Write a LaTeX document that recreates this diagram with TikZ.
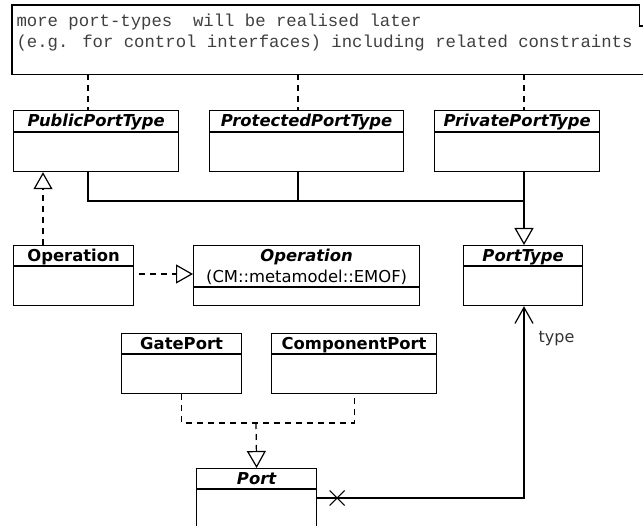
\documentclass[tikz,border=0pt]{standalone}
\usepackage{fontspec}
\setmainfont{DejaVu Sans}
\newfontfamily\notefont{Liberation Mono}
\usetikzlibrary{positioning, calc, arrows.meta, shapes.misc}

\begin{document}
\begin{tikzpicture}[
  x=1pt, y=-1pt,
  line width=1.2pt,
  classbox/.style={draw, anchor=north west, inner sep=0pt},
  classname/.style={font=\fontsize{16.4}{22}\selectfont\bfseries, inner sep=0pt, anchor=base},
  notetext/.style={font=\notefont\fontsize{17.3}{21}\selectfont, text=black!75, inner sep=0pt, anchor=base west},
  dep/.style={dash pattern=on 6pt off 5pt},
  realize/.style={dep, -{Triangle[open, length=17pt, width=19pt]}},
  generalize/.style={-{Triangle[open, length=17pt, width=19pt]}},
  assoc/.style={-{Straight Barb[length=16pt, width=18pt]}},
]
\useasboundingbox (0,0) rectangle (643,526);
\clip (0,0) rectangle (643,526);

% -------- note on top --------
\node[anchor=north west, minimum width=626pt, minimum height=68pt, inner sep=0pt] (note) at (12,5) {};
\draw ([xshift=12pt]note.south east) -- (note.south west) -- (note.north west) -- (note.north east)
  -- ++(0,21) -- ++(4,0);
\node[notetext] (noteA) at ([shift={(4,21.5)}]note.north west) {more port-types~~will be realised later};
\node[notetext] (noteB) at ([shift={(4,42.5)}]note.north west) {(e.g. for control interfaces) including related constraints};

% -------- port type classes --------
\node[classbox, minimum width=165pt, minimum height=61pt] (pub)  at (13,110)  {};
\node[classbox, minimum width=194pt, minimum height=61pt] (prot) at (209,110) {};
\node[classbox, minimum width=165pt, minimum height=61pt] (priv) at (434,110) {};
\foreach \c in {pub, prot, priv} {
  \draw ([yshift=-22pt]\c.north west) -- ([yshift=-22pt]\c.north east);
}
\node[classname] (pub-t)  at ([yshift=-16.5pt]pub.north)  {\itshape PublicPortType};
\node[classname] (prot-t) at ([yshift=-16.5pt]prot.north) {\itshape ProtectedPortType};
\node[classname] (priv-t) at ([yshift=-16.5pt]priv.north) {\itshape PrivatePortType};

% -------- operation, emof operation, port type --------
\node[classbox, minimum width=120pt, minimum height=60pt] (op)    at (13,245)  {};
\node[classbox, minimum width=226pt, minimum height=60pt] (emof)  at (193,245) {};
\node[classbox, minimum width=119pt, minimum height=60pt] (ptype) at (463,245) {};
\draw ([yshift=-21pt]op.north west) -- ([yshift=-21pt]op.north east);
\draw ([yshift=-42pt]emof.north west) -- ([yshift=-42pt]emof.north east);
\draw ([yshift=-21pt]ptype.north west) -- ([yshift=-21pt]ptype.north east);
\node[classname] (op-t)    at ([yshift=-16.5pt]op.north)    {Operation};
\node[classname] (emof-t)  at ([yshift=-16.5pt]emof.north)  {\itshape Operation};
\node[classname, font=\fontsize{16.4}{22}\selectfont] (emof-p) at ([yshift=-38pt]emof.north) {(CM::metamodel::EMOF)};
\node[classname] (ptype-t) at ([yshift=-16.5pt]ptype.north) {\itshape PortType};

% -------- ports --------
\node[classbox, minimum width=120pt, minimum height=60pt]  (gate) at (121,333) {};
\node[classbox, minimum width=165pt, minimum height=60pt]  (comp) at (271,333) {};
\node[classbox, minimum width=120pt, minimum height=100pt] (port) at (196,468) {};
\foreach \c in {gate, comp, port} {
  \draw ([yshift=-21pt]\c.north west) -- ([yshift=-21pt]\c.north east);
}
\node[classname] (gate-t) at ([yshift=-16.5pt]gate.north) {GatePort};
\node[classname] (comp-t) at ([yshift=-16.5pt]comp.north) {ComponentPort};
\node[classname] (port-t) at ([yshift=-16.5pt]port.north) {\itshape Port};

% -------- connectors --------
\coordinate (cA) at (88,0);
\coordinate (cB) at (298,0);
\coordinate (cC) at (524,0);
\coordinate (cD) at (43,0);
\coordinate (join) at (524,201);
\coordinate (joinB) at (256,423);
\coordinate (rowE) at (0,274);
\coordinate (rowP) at (0,498);

% note anchors
\draw[dep] (note.south -| cA) -- (pub.north -| cA);
\draw[dep] (note.south -| cB) -- (prot.north -| cB);
\draw[dep] (note.south -| cC) -- (priv.north -| cC);

% generalisation to PortType
\draw (pub.south -| cA) |- (join);
\draw (prot.south -| cB) -- (join -| cB);
\draw[generalize] (priv.south -| cC) -- (ptype.north -| cC);

% realisations
\draw[realize] (op.north -| cD) -- (pub.south -| cD);
\draw[realize, dash phase=6pt] (op.east |- rowE) -- (emof.west |- rowE);
\draw[dep] (gate.south) |- (joinB) -| (comp.south);
\draw[realize] (joinB) -- (port.north);

% association port -> type
\draw[assoc] (port.east |- rowP) -| (ptype.south -| cC);
\node[draw, cross out, minimum size=14pt, inner sep=0pt, line width=1pt] (xmark) at ([xshift=20pt]port.east |- rowP) {};
\node[anchor=west, font=\fontsize{16}{20}\selectfont, text=black!80, inner sep=0pt] (typelbl)
  at ([shift={(14,32)}]ptype.south -| cC) {type};

\end{tikzpicture}
\end{document}
